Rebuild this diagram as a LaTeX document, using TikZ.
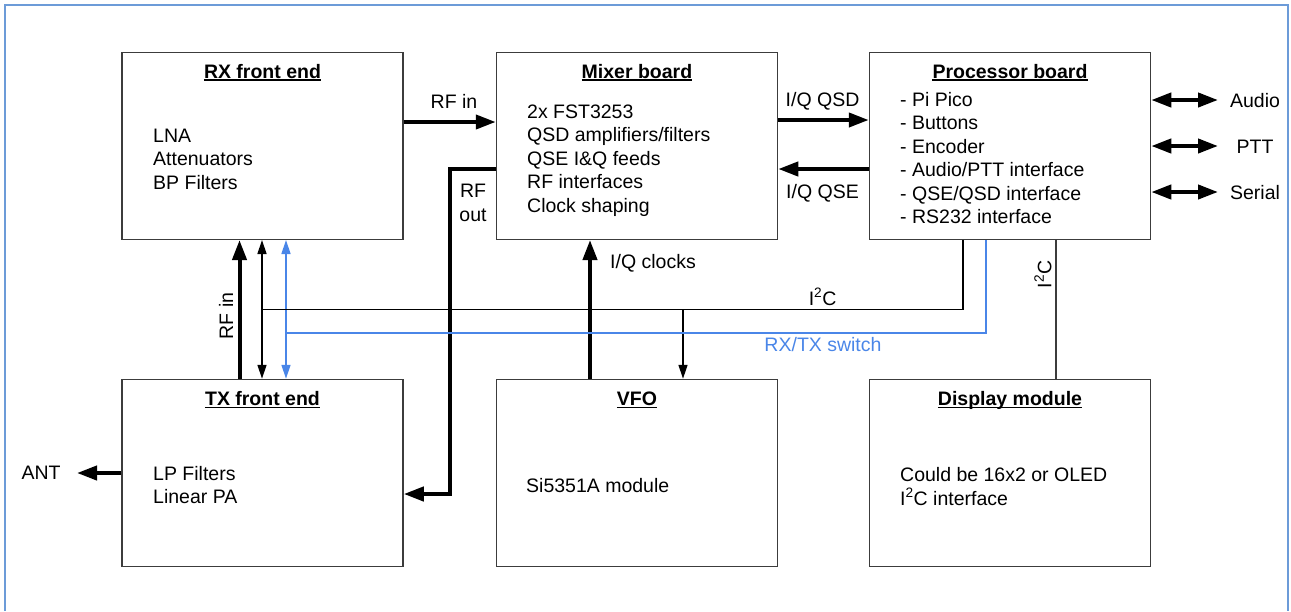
\documentclass[tikz,border=0pt]{standalone}
\usepackage{fontspec}
\setmainfont{Liberation Sans}
\usetikzlibrary{arrows.meta}
\definecolor{frameblue}{RGB}{108,155,216}
\definecolor{sigblue}{RGB}{74,134,232}
\definecolor{boxgray}{RGB}{60,60,60}
\newcommand{\tlines}[1]{\begin{tabular}[t]{@{}l@{}}#1\end{tabular}}
\newcommand{\clines}[1]{\begin{tabular}[t]{@{}c@{}}#1\end{tabular}}
\newcommand{\ItwoC}{I\textsuperscript{2}C}
\newcommand{\ulnode}[1]{\draw[line width=1.3pt] ([yshift=-2pt]#1.base west) -- ([yshift=-2pt]#1.base east);}
\begin{document}
\begin{tikzpicture}[x=1pt,y=-1pt,
  font=\fontsize{19.5}{23.5}\selectfont,
  box/.style={draw=boxgray, line width=1.5pt, minimum width=281pt, minimum height=187pt, inner sep=0pt},
  lbl/.style={inner sep=0pt, anchor=base},
  ttlnode/.style={inner sep=0pt, anchor=base, font=\fontsize{19.5}{23.5}\selectfont\bfseries},
  body/.style={inner sep=0pt, anchor=base west},
  thickarr/.style={line width=4pt, -{Triangle[length=20pt,width=14pt]}},
  thickdbl/.style={line width=4pt, {Triangle[length=20pt,width=14pt]}-{Triangle[length=20pt,width=14pt]}},
  thinline/.style={line width=1.4pt},
  thinarr/.style={line width=1.4pt, -{Triangle[length=14pt,width=9pt]}},
  thindbl/.style={line width=1.4pt, {Triangle[length=14pt,width=9pt]}-{Triangle[length=14pt,width=9pt]}}
]
\useasboundingbox (0,0) rectangle (1291,611);
% frame
\draw[frameblue, line width=2.5pt] (5,611) -- (5,5) -- (1288,5) -- (1288,611);

% boxes
\node[box] (rx)   at (262.5,145.75) {};
\node[box] (mix)  at (637,145.75) {};
\node[box] (proc) at (1010,145.75) {};
\node[box] (tx)   at (262.5,473) {};
\node[box] (vfo)  at (637,473) {};
\node[box] (disp) at (1010,473) {};

% titles
\node[ttlnode] (rxt)   at (262.5,78) {RX front end};
\node[ttlnode] (mixt)  at (637,78) {Mixer board};
\node[ttlnode] (proct) at (1010,78) {Processor board};
\node[ttlnode] (txt)   at (262.5,405.3) {TX front end};
\node[ttlnode] (vfot)  at (637,405.3) {VFO};
\node[ttlnode] (dispt) at (1010,405.3) {Display module};
\ulnode{rxt}
\ulnode{mixt}
\ulnode{proct}
\ulnode{txt}
\ulnode{vfot}
\ulnode{dispt}

% bodies
\node[body] (rxb)   at (153,142) {\tlines{LNA\\Attenuators\\BP Filters}};
\node[body] (mixb)  at (527,118) {\tlines{2x FST3253\\QSD amplifiers/filters\\QSE I\&Q feeds\\RF interfaces\\Clock shaping}};
\node[body] (procb) at (900,106.3) {\tlines{- Pi Pico\\- Buttons\\- Encoder\\- Audio/PTT interface\\- QSE/QSD interface\\- RS232 interface}};
\node[body] (txb)   at (153,480) {\tlines{LP Filters\\Linear PA}};
\node[body] (vfob)  at (526,492.7) {Si5351A module};
\node[body] (dispb) at (900,481) {\tlines{Could be 16x2 or OLED\\\ItwoC{} interface}};

% labels
\node[lbl] (lrfin)  at (454,108) {RF in};
\node[lbl] (lrfout) at (473,197.7) {\clines{RF\\out}};
\node[lbl] (lqsd)   at (822.5,106) {I/Q QSD};
\node[lbl] (lqse)   at (822.5,198.7) {I/Q QSE};
\node[body] (lclk)  at (610,268.7) {I/Q clocks};
\node[lbl] (li2c)   at (822.6,305) {\ItwoC};
\node[lbl, text=sigblue] (lsw) at (823,351) {RX/TX switch};
\node[inner sep=0pt, rotate=90] (li2cd) at (1043,274.5) {\ItwoC};
\node[inner sep=0pt, rotate=90] (lrfv) at (226,316) {RF in};
\node[lbl] (lant)   at (41,479.7) {ANT};
\node[lbl] (laud)   at (1255,107) {Audio};
\node[lbl] (lptt)   at (1255,153) {PTT};
\node[lbl] (lser)   at (1255,199) {Serial};

% helper coordinates
\coordinate (rfoutA) at (450,168.7);
\coordinate (rfoutB) at (450,494);
\coordinate (i2cA) at (963,309.5);
\coordinate (i2cB) at (262,309.5);
\coordinate (i2cC) at (683,309.5);
\coordinate (swA) at (986,333);
\coordinate (swB) at (286,333);
\coordinate (antend) at (77,473);
\coordinate (audend) at (1218,100);
\coordinate (pttend) at (1218,146);
\coordinate (serend) at (1218,192);

% connectors
\draw[thickarr] (rx.east |- 0,122) -- (mix.west |- 0,122);
\draw[thickarr] (mix.west |- rfoutA) -- (rfoutA) -- (rfoutB) -- (tx.east |- rfoutB);
\draw[thickarr] (mix.east |- 0,120) -- (proc.west |- 0,120);
\draw[thickarr] (proc.west |- 0,169) -- (mix.east |- 0,169);
\draw[thickarr] (vfo.north -| 590,0) -- (mix.south -| 590,0);
\draw[thickarr] (tx.north -| 239.5,0) -- (rx.south -| 239.5,0);
\draw[thindbl] (rx.south -| 262,0) -- (tx.north -| 262,0);
\draw[thindbl, sigblue] (rx.south -| 286,0) -- (tx.north -| 286,0);
\draw[thinline] (proc.south -| i2cA) -- (i2cA) -- (i2cB);
\draw[thinarr] (i2cC) -- (vfo.north -| i2cC);
\draw[thinline, sigblue] (proc.south -| swA) -- (swA) -- (swB);
\draw[thinline, boxgray] (proc.south -| 1056,0) -- (disp.north -| 1056,0);
\draw[thickarr] (tx.west |- antend) -- (antend);
\draw[thickdbl] (proc.east |- audend) -- (audend);
\draw[thickdbl] (proc.east |- pttend) -- (pttend);
\draw[thickdbl] (proc.east |- serend) -- (serend);
\end{tikzpicture}
\end{document}
